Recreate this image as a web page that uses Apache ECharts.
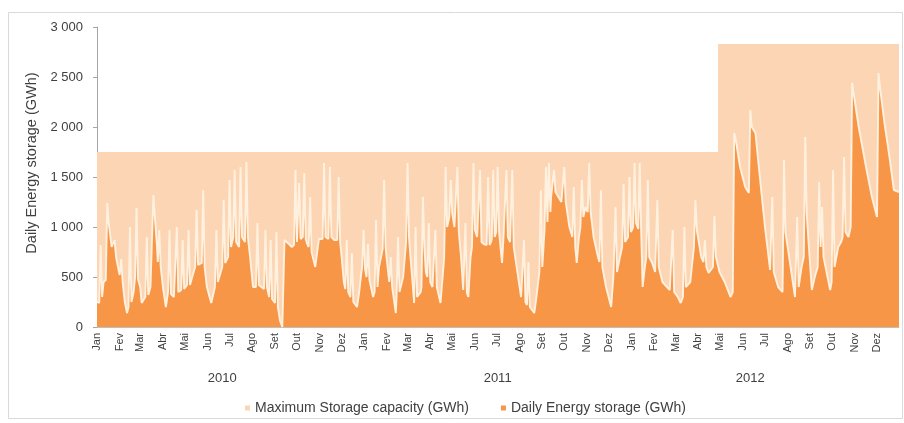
<!DOCTYPE html>
<html>
<head>
<meta charset="utf-8">
<script src="https://cdn.jsdelivr.net/npm/echarts@6/dist/echarts.min.js"></script>
<style>
html,body{margin:0;padding:0;background:#fff;}
#chart{width:904px;height:423px;}
</style>
</head>
<body>
<div id="chart"></div>
<script>
// ---- data ----
const monthNames = ['Jan','Fev','Mar','Abr','Mai','Jun','Jul','Ago','Set','Out','Nov','Dez'];
const yearLabels = ['2010','2011','2012'];
const yearLabelDays = [171, 547, 892];          // day offsets from 2010-01-01 where the year labels sit
const capacityDays = [0, 848, 1095];
const capacityValues = [1750, 2830, 2830];
// [day offset from 2010-01-01, GWh]
const storageSeries = [
[0,250],[3,240],[5,820],[7,300],[9,450],[12,470],[14,1240],[16,1040],[20,800],[22,780],[24,870],[26,700],[30,550],[31,520],[33,680],[35,450],
[38,250],[41,140],[43,200],[45,1000],[47,250],[50,350],[52,500],[54,1190],[56,480],[59,400],[61,240],[66,300],[68,900],[70,320],[73,400],[75,420],
[77,1320],[79,1100],[82,800],[83,650],[85,970],[87,600],[90,400],[94,200],[97,350],[99,970],[101,330],[105,300],[109,1000],[111,350],[115,370],[117,870],
[119,380],[123,420],[125,970],[127,420],[130,500],[134,600],[136,1170],[138,620],[143,640],[145,1370],[147,600],[150,400],[156,240],[161,400],[163,970],[165,450],
[171,600],[173,1270],[175,640],[179,700],[181,1470],[183,800],[186,900],[188,1570],[190,850],[194,800],[196,1600],[198,900],[202,850],[204,1650],[206,900],[209,700],
[213,400],[217,400],[219,1040],[221,420],[228,380],[230,970],[232,400],[235,300],[237,870],[239,280],[243,240],[245,950],[247,200],[250,60],[253,0],[255,0],
[256,870],[258,850],[262,830],[266,800],[269,820],[271,1570],[273,850],[274,870],[276,1440],[278,880],[281,900],[283,1540],[285,880],[287,830],[289,800],[291,1300],
[293,750],[298,600],[303,880],[305,870],[308,880],[310,1640],[312,900],[316,880],[318,1600],[320,900],[324,870],[328,870],[330,1500],[332,850],[334,700],[337,450],
[339,380],[341,870],[343,350],[346,300],[348,740],[350,250],[355,200],[358,350],[361,550],[362,600],[364,970],[366,580],[368,500],[370,830],[372,470],[377,300],
[379,350],[381,1070],[383,400],[385,600],[390,780],[392,1470],[394,800],[396,650],[399,450],[401,700],[403,400],[408,140],[409,300],[411,900],[413,350],[418,500],
[422,850],[424,1640],[426,900],[428,700],[433,240],[435,1000],[437,300],[442,350],[443,400],[445,1300],[447,800],[449,550],[451,500],[453,1040],[455,450],[458,400],
[460,400],[462,970],[464,400],[469,240],[473,600],[474,700],[476,1600],[478,1000],[481,1100],[483,1470],[485,1140],[488,1000],[490,980],[492,1600],[494,950],[497,700],
[500,370],[501,360],[503,1040],[505,340],[507,300],[510,700],[512,800],[514,1640],[516,970],[519,900],[521,880],[523,1570],[525,850],[528,830],[532,820],[534,1500],
[536,820],[538,850],[539,880],[541,1570],[543,900],[545,950],[547,1600],[549,950],[553,640],[555,900],[557,900],[559,1570],[561,900],[564,850],[565,830],[567,1570],
[569,800],[573,600],[579,300],[581,280],[583,870],[585,250],[587,220],[589,650],[591,200],[597,140],[600,300],[604,550],[606,1370],[608,600],[611,970],[613,1600],
[615,1050],[617,1640],[619,1150],[620,1300],[622,1320],[624,1570],[626,1350],[630,1300],[634,1250],[636,1250],[638,1600],[640,1250],[645,1000],[649,900],[651,1400],[653,800],
[655,640],[658,900],[660,1000],[662,1470],[664,1100],[667,1200],[670,1150],[672,1640],[674,1150],[678,900],[684,700],[686,650],[688,1370],[690,600],[695,400],[702,200],
[705,500],[706,520],[708,1200],[710,550],[714,700],[717,800],[719,1430],[721,850],[723,870],[725,900],[727,1500],[729,950],[732,1000],[734,1640],[736,1040],[739,980],
[741,1640],[743,950],[745,400],[748,600],[750,700],[752,1470],[754,700],[758,640],[762,550],[763,560],[765,1270],[767,600],[772,450],[782,370],[784,360],[786,970],
[788,350],[793,300],[797,240],[800,300],[802,1000],[804,400],[810,450],[815,800],[817,1270],[819,970],[825,700],[828,650],[830,870],[832,600],[835,540],[841,600],
[843,1110],[845,700],[850,550],[857,450],[865,300],[868,350],[870,1940],[872,1880],[878,1600],[885,1400],[890,1340],[892,2170],[894,2000],[899,1940],[905,1500],[912,1000],
[919,570],[920,560],[922,1300],[924,550],[930,400],[936,350],[938,1670],[940,950],[945,700],[953,300],[954,320],[956,1100],[958,400],[962,600],[965,700],[967,1900],
[969,1140],[972,800],[976,370],[980,500],[984,600],[986,1450],[988,800],[990,1200],[992,700],[1001,370],[1003,450],[1005,1570],[1007,600],[1012,800],[1016,850],[1018,900],
[1020,1700],[1022,950],[1026,900],[1029,1000],[1031,2440],[1033,2340],[1040,2000],[1050,1600],[1058,1300],[1065,1100],[1067,2540],[1069,2400],[1075,2050],[1082,1700],[1088,1370],[1095,1350]
];

// ---- build ----
const DAY = 86400000;
const T0 = Date.UTC(2010, 0, 1);
const toTime = d => T0 + d * DAY;
const capacity = capacityDays.map((d, i) => [toTime(d), capacityValues[i]]);
const storage = storageSeries.map(p => [toTime(p[0]), p[1]]);

const fmtThousands = v => v >= 1000 ? Math.floor(v / 1000) + ' ' + String(v % 1000).padStart(3, '0') : String(v);
const FONT = '"Liberation Sans", Arial, sans-serif';
const TXT = '#404040';

const chart = echarts.init(document.getElementById('chart'), null, {renderer: 'canvas'});
chart.setOption({
  useUTC: true,
  animation: false,
  backgroundColor: '#ffffff',
  textStyle: {fontFamily: FONT},
  grid: {left: 97, right: 5, top: 27, bottom: 96},
  legend: {
    left: 240, top: 396, icon: 'rect', itemWidth: 5, itemHeight: 5, itemGap: 32,
    textStyle: {fontSize: 14, color: TXT, fontFamily: FONT},
    data: ['Maximum Storage capacity (GWh)', 'Daily Energy storage (GWh)']
  },
  xAxis: {
    type: 'time', min: toTime(0), max: toTime(1095),
    splitNumber: 36, minInterval: 28 * DAY, maxInterval: 31 * DAY,
    axisLine: {show: true, lineStyle: {color: '#BFBFBF'}},
    axisTick: {show: false},
    splitLine: {show: false},
    axisLabel: {
      rotate: 90, fontSize: 11, color: TXT, margin: 6, fontFamily: FONT,
      hideOverlap: false, showMaxLabel: false,
      formatter: v => monthNames[new Date(v).getUTCMonth()]
    }
  },
  yAxis: {
    type: 'value', min: 0, max: 3000, interval: 500,
    name: 'Daily Energy storage (GWh)', nameLocation: 'middle', nameGap: 55,
    nameTextStyle: {fontSize: 14.5, color: TXT, fontFamily: FONT, padding: [0, 0, 0, 28]},
    axisLine: {show: true, lineStyle: {color: '#A6A6A6'}},
    axisTick: {show: true, length: 4, lineStyle: {color: '#A6A6A6'}},
    splitLine: {show: false},
    axisLabel: {fontSize: 13, color: TXT, margin: 14, fontFamily: FONT, formatter: fmtThousands}
  },
  series: [
    {
      name: 'Maximum Storage capacity (GWh)', type: 'line', step: 'end', data: capacity,
      symbol: 'none', lineStyle: {width: 0}, itemStyle: {color: '#FCD5B4'},
      areaStyle: {color: '#FCD5B4', opacity: 1}, z: 1
    },
    {
      name: 'Daily Energy storage (GWh)', type: 'line', data: storage,
      symbol: 'none', lineStyle: {color: '#FFF1DF', width: 1.9}, itemStyle: {color: '#F79646'},
      areaStyle: {color: '#F79646', opacity: 1}, z: 2
    }
  ],
  graphic: [{
    id: 'frame', type: 'rect', shape: {x: 8.5, y: 12.5, width: 894, height: 406},
    style: {fill: 'none', stroke: '#D9D9D9', lineWidth: 1}, silent: true, z: -10
  }]
});

// year group labels positioned through the time axis scale
const yearGraphics = yearLabels.map((t, i) => {
  const px = chart.convertToPixel({xAxisIndex: 0}, toTime(yearLabelDays[i]));
  return {
    id: 'year' + i, type: 'text', x: px, y: 378,
    style: {text: t, fontSize: 13, fill: TXT, font: '13px ' + FONT, textAlign: 'center', textVerticalAlign: 'middle'},
    silent: true
  };
});
chart.setOption({graphic: yearGraphics});
</script>
</body>
</html>
